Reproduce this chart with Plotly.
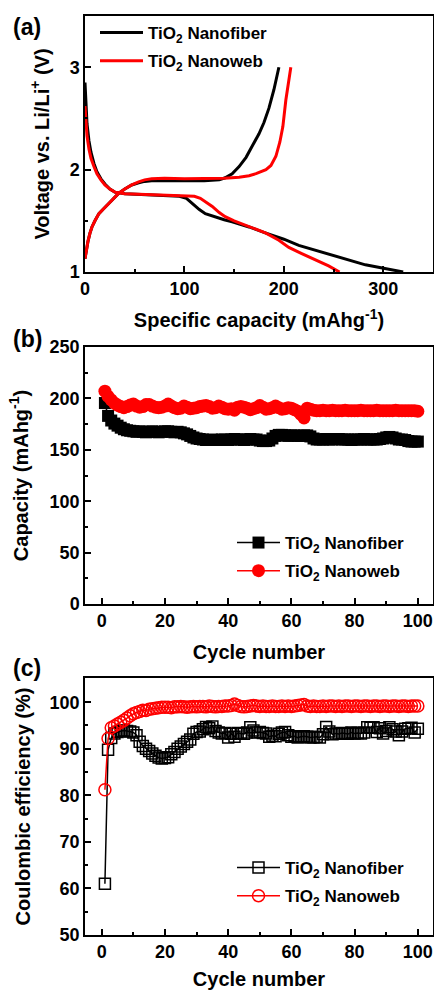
import plotly.graph_objects as go

# ---------------- Panel (a): voltage profiles ----------------
nf_dis_cap = [0, 1, 2, 4, 6, 9, 12, 16, 20, 25, 30, 40, 55, 70, 85, 95, 102, 108, 115, 121, 130, 140, 148,
              165, 182, 200, 215, 232, 248, 265, 282, 299, 310, 320]
nf_dis_v = [2.85, 2.62, 2.45, 2.28, 2.17, 2.06, 1.98, 1.91, 1.86, 1.81, 1.78, 1.765, 1.76, 1.755, 1.75, 1.74,
            1.72, 1.67, 1.61, 1.57, 1.54, 1.51, 1.49, 1.44, 1.38, 1.32, 1.26, 1.21, 1.17, 1.12, 1.07, 1.04, 1.02, 1.0]
nw_dis_cap = [0, 1, 2, 4, 6, 9, 12, 16, 20, 25, 30, 40, 55, 70, 85, 100, 110, 116, 122, 128, 135, 141, 150,
              165, 182, 195, 205, 218, 232, 245, 256]
nw_dis_v = [2.62, 2.45, 2.33, 2.2, 2.11, 2.03, 1.96, 1.9, 1.85, 1.81, 1.78, 1.765, 1.76, 1.76, 1.755, 1.75,
            1.74, 1.72, 1.68, 1.64, 1.58, 1.54, 1.5, 1.44, 1.38, 1.31, 1.24, 1.18, 1.12, 1.06, 1.0]
nf_chg_cap = [0, 1, 3, 5, 7, 10, 14, 18, 21, 26, 30, 34, 40, 47, 54, 60, 67, 80, 100, 120, 135, 141, 148,
              155, 162, 168, 175, 180, 185, 190, 195]
nf_chg_v = [1.13, 1.2, 1.3, 1.38, 1.44, 1.5, 1.57, 1.61, 1.64, 1.69, 1.73, 1.77, 1.81, 1.85, 1.87, 1.885,
            1.89, 1.89, 1.885, 1.89, 1.9, 1.92, 1.96, 2.03, 2.12, 2.22, 2.35, 2.46, 2.6, 2.78, 3.0]
nw_chg_cap = [0, 1, 3, 5, 7, 10, 14, 18, 21, 26, 30, 34, 40, 47, 54, 60, 67, 80, 100, 120, 140, 155, 165,
              172, 178, 182, 187, 192, 196, 199, 202, 205, 207]
nw_chg_v = [1.13, 1.2, 1.3, 1.38, 1.44, 1.5, 1.57, 1.61, 1.64, 1.69, 1.73, 1.77, 1.81, 1.85, 1.88, 1.9,
            1.91, 1.915, 1.91, 1.91, 1.915, 1.925, 1.94, 1.96, 1.98, 2.0, 2.04, 2.13, 2.27, 2.42, 2.68, 2.87, 3.0]

# ---------------- Panel (b): capacity vs cycle ----------------
cycles = list(range(1, 101))
nf_capacity = [195.5, 183, 178.5, 175.5, 173.5, 171.5, 170, 169, 168.5, 168,
               167.5, 168, 167.5, 167, 167.5, 168, 167.5, 167, 167.5, 168,
               168, 167.5, 167, 167.5, 167, 166, 165, 163.5, 162, 161,
               160.5, 160, 159.5, 159.5, 160, 159.5, 159.5, 160, 160, 159.5,
               160, 160.5, 160, 160, 159.5, 160, 160.5, 160, 160, 159,
               158.5, 158.5, 159, 161, 163.5, 164.5, 164.5, 164, 163.5, 164,
               164, 163.5, 163.5, 164, 164, 163, 161, 160, 160, 160,
               160.5, 160, 160, 160.5, 160.5, 160, 160, 160, 159.5, 160,
               160, 160, 160.5, 160, 160, 160, 160, 160.5, 161, 162,
               162.5, 162, 161, 160, 160, 159.5, 158.5, 158, 158, 158]
nw_capacity = [207, 202, 198.5, 195.5, 193.5, 192, 191, 192, 193.5, 194.5,
               192.5, 191.5, 192, 194, 194, 192.5, 191.5, 191, 191.5, 192.5,
               194.5, 192.5, 191, 190, 190.5, 192.5, 191.5, 190, 190.5, 191,
               192, 192.5, 193, 192, 190.5, 191, 192.5, 191.5, 190, 189.5,
               190, 188.5, 191.5, 192, 191.5, 190.5, 189, 190, 191, 193,
               191.5, 189.5, 190, 191, 192.5, 191, 189.5, 190, 191, 190.5,
               189, 187.5, 184.5, 181, 190.5, 189.5, 188.5, 188, 188, 188.5,
               188, 188, 188.5, 188, 188, 188, 188.5, 188, 188, 188,
               188, 188.5, 188, 188, 188, 188, 188.5, 188, 188, 188,
               188, 188, 188.5, 188, 188, 188, 188, 188, 188, 187.5]

# ---------------- Panel (c): coulombic efficiency ----------------
nf_ce = [61.0, 89.8, 92.3, 93.3, 93.6, 93.8, 93.9, 93.8, 93.7, 93.5,
         92.9, 91.5, 90.6, 90.0, 89.5, 89.0, 88.5, 88.1, 87.9, 88.0,
         88.2, 88.8, 89.3, 90.0, 90.5, 91.0, 91.5, 92.0, 93.2, 93.6,
         93.7, 94.2, 94.7, 94.4, 94.8, 93.8, 93.5, 93.3, 93.4, 92.4,
         93.2, 92.6, 93.4, 93.3, 93.2, 93.5, 94.6, 93.9, 93.5, 93.6,
         93.4, 93.3, 92.6, 92.8, 92.7, 93.2, 93.5, 93.6, 92.9, 92.6,
         92.7, 92.4, 92.6, 92.7, 92.6, 92.4, 92.5, 92.6, 92.4, 93.1,
         94.7, 93.7, 93.1, 93.3, 93.2, 93.4, 93.3, 93.2, 93.5, 93.3,
         93.4, 93.3, 93.5, 94.6, 94.5, 94.6, 93.6, 94.4, 93.3, 93.8,
         94.6, 94.2, 93.7, 92.9, 93.7, 94.3, 94.4, 94.5, 93.5, 94.3]
nw_ce = [81.2, 92.2, 94.5, 94.9, 95.3, 95.7, 96.1, 96.6, 97.1, 97.5,
         97.8, 98.0, 98.3, 98.2, 98.5, 98.6, 98.7, 98.8, 98.9, 98.9,
         98.9, 98.8, 99.0, 99.0, 99.1, 99.0, 98.9, 99.0, 99.1, 99.0,
         99.1, 99.1, 99.0, 99.2, 99.1, 99.0, 99.1, 99.1, 99.2, 99.2,
         99.3, 99.6, 99.3, 99.1, 99.0, 99.1, 99.2, 99.3, 99.2, 99.1,
         99.2, 99.1, 99.1, 99.2, 99.1, 99.1, 99.2, 99.1, 99.2, 99.1,
         99.2, 99.3, 99.4, 99.5, 99.2, 99.1, 99.2, 99.1, 99.1, 99.2,
         99.1, 99.2, 99.2, 99.1, 99.2, 99.1, 99.2, 99.2, 99.1, 99.2,
         99.2, 99.1, 99.2, 99.2, 99.1, 99.2, 99.2, 99.1, 99.2, 99.2,
         99.1, 99.2, 99.2, 99.1, 99.2, 99.2, 99.1, 99.2, 99.2, 99.2]

name_nf = "TiO<sub>2</sub> Nanofiber"
name_nw = "TiO<sub>2</sub> Nanoweb"

FONT = "Arial, Liberation Sans, sans-serif"
BLACK = "#000000"
RED = "#ff0000"

fig = go.Figure()

# (a)
fig.add_trace(go.Scatter(x=nf_dis_cap, y=nf_dis_v, mode="lines", line=dict(color=BLACK, width=3),
                         name=name_nf, legend="legend", legendgroup="a1", xaxis="x", yaxis="y"))
fig.add_trace(go.Scatter(x=nf_chg_cap, y=nf_chg_v, mode="lines", line=dict(color=BLACK, width=3),
                         name=name_nf, showlegend=False, legendgroup="a1", xaxis="x", yaxis="y"))
fig.add_trace(go.Scatter(x=nw_dis_cap, y=nw_dis_v, mode="lines", line=dict(color=RED, width=3),
                         name=name_nw, legend="legend", legendgroup="a2", xaxis="x", yaxis="y"))
fig.add_trace(go.Scatter(x=nw_chg_cap, y=nw_chg_v, mode="lines", line=dict(color=RED, width=3),
                         name=name_nw, showlegend=False, legendgroup="a2", xaxis="x", yaxis="y"))

# (b)
fig.add_trace(go.Scatter(x=cycles, y=nf_capacity, mode="lines+markers",
                         line=dict(color=BLACK, width=1.5),
                         marker=dict(symbol="square", size=12, color=BLACK),
                         name=name_nf, legend="legend2", legendgroup="b1", xaxis="x2", yaxis="y2"))
fig.add_trace(go.Scatter(x=cycles, y=nw_capacity, mode="lines+markers",
                         line=dict(color=RED, width=1.5),
                         marker=dict(symbol="circle", size=13, color=RED),
                         name=name_nw, legend="legend2", legendgroup="b2", xaxis="x2", yaxis="y2"))

# (c)
fig.add_trace(go.Scatter(x=cycles, y=nf_ce, mode="lines+markers",
                         line=dict(color=BLACK, width=1.5),
                         marker=dict(symbol="square-open", size=11, color=BLACK, line=dict(width=1.5)),
                         name=name_nf, legend="legend3", legendgroup="c1", xaxis="x3", yaxis="y3"))
fig.add_trace(go.Scatter(x=cycles, y=nw_ce, mode="lines+markers",
                         line=dict(color=RED, width=1.5),
                         marker=dict(symbol="circle-open", size=12, color=RED, line=dict(width=1.5)),
                         name=name_nw, legend="legend3", legendgroup="c2", xaxis="x3", yaxis="y3"))

TICKFONT = dict(family=FONT, size=18, color=BLACK, weight="bold")
TITLEFONT = dict(family=FONT, size=20, color=BLACK, weight="bold")


def axis_common():
    return dict(showline=True, linecolor=BLACK, linewidth=1.5, mirror=True, ticks="inside",
                ticklen=6, tickwidth=1.5, tickcolor=BLACK, showgrid=False, zeroline=False,
                tickfont=TICKFONT, automargin=False)


H = 919.0


def dom(top_px, bot_px):
    return [(935 - bot_px) / H, (935 - top_px) / H]


def minor(dt, t0):
    return dict(ticks="inside", ticklen=3.5, tickwidth=1.5, tickcolor=BLACK, dtick=dt, tick0=t0)


xa = axis_common()
xa.update(domain=[0, 1], anchor="y", range=[0, 350], tickvals=[0, 100, 200, 300], minor=minor(50, 0),
          title=dict(text="Specific capacity (mAhg<sup>-1</sup>)", font=TITLEFONT, standoff=15))
ya = axis_common()
ya.update(domain=dom(16, 272), anchor="x", range=[1, 3.5], tickvals=[1, 2, 3], minor=minor(0.5, 1),
          title=dict(text="Voltage vs. Li/Li<sup>+</sup> (V)", font=TITLEFONT, standoff=15))

xb = axis_common()
xb.update(domain=[0, 1], anchor="y2", range=[-5.3, 104.8], tickvals=[0, 20, 40, 60, 80, 100],
          minor=minor(10, 0), title=dict(text="Cycle number", font=TITLEFONT, standoff=15))
yb = axis_common()
yb.update(domain=dom(347, 604), anchor="x2", range=[0, 250], tickvals=[0, 50, 100, 150, 200, 250],
          minor=minor(25, 0), title=dict(text="Capacity (mAhg<sup>-1</sup>)", font=TITLEFONT, standoff=16))

xc = axis_common()
xc.update(domain=[0, 1], anchor="y3", range=[-5.3, 104.8], tickvals=[0, 20, 40, 60, 80, 100],
          minor=minor(10, 0), title=dict(text="Cycle number", font=TITLEFONT, standoff=18))
yc = axis_common()
yc.update(domain=dom(678, 935), anchor="x3", range=[50, 105.2], tickvals=[50, 60, 70, 80, 90, 100],
          minor=minor(5, 50), title=dict(text="Coulombic efficiency (%)", font=TITLEFONT, standoff=14))

LEGFONT = dict(family=FONT, size=17, color=BLACK, weight="bold")


def leg(x_px, top_px):
    return dict(x=(x_px - 85) / 348.0, y=(935 - top_px) / H, xanchor="left", yanchor="top",
                font=LEGFONT, bgcolor="rgba(0,0,0,0)", borderwidth=0, tracegroupgap=3,
                itemwidth=43, itemclick=False, itemdoubleclick=False)


def label(text, x_px, y_px):
    return dict(text=text, xref="paper", yref="paper", x=(x_px - 85) / 348.0, y=(935 - y_px) / H,
                xanchor="left", yanchor="middle", showarrow=False,
                font=dict(family=FONT, size=23, color=BLACK, weight="bold"))


fig.update_layout(
    width=434, height=990,
    margin=dict(l=85, r=1, t=16, b=55),
    paper_bgcolor="white", plot_bgcolor="white",
    font=dict(family=FONT, color=BLACK),
    xaxis=xa, yaxis=ya, xaxis2=xb, yaxis2=yb, xaxis3=xc, yaxis3=yc,
    legend=leg(95, 15),
    legend2=leg(232, 525),
    legend3=leg(232, 850),
    annotations=[label("(a)", 11, 27), label("(b)", 11, 339), label("(c)", 11, 668)],
    showlegend=True,
)

# remove the default 8 px page margin so the 434 x 990 figure fills the window exactly
fig.write_html("out.html", config={"displayModeBar": False},
               post_script="document.body.style.margin='0';document.body.style.overflow='hidden';")
